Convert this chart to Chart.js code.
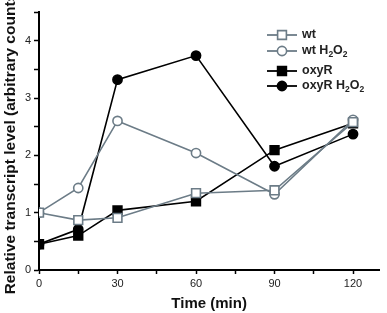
<!DOCTYPE html>
<html>
<head>
<meta charset="utf-8">
<script src="https://cdn.jsdelivr.net/npm/chart.js@4"></script>
<style>
html,body{margin:0;padding:0;background:#fff;}
#wrap{position:relative;width:387px;height:313px;}
</style>
</head>
<body>
<div id="wrap"><canvas id="c" width="387" height="313"></canvas></div>
<script>
const times = [0, 15, 30, 60, 90, 120];
const wt = [1.0, 0.87, 0.91, 1.34, 1.39, 2.58];
const wtH2O2 = [1.0, 1.43, 2.60, 2.04, 1.32, 2.62];
const oxyR = [0.45, 0.60, 1.04, 1.20, 2.09, 2.56];
const oxyRH2O2 = [0.45, 0.71, 3.32, 3.74, 1.81, 2.37];
const xTickLabels = [0, 30, 60, 90, 120];
const yTickLabels = [0, 1, 2, 3, 4];

const GRAY = '#6c7c87';
const BLACK = '#000';
const pts = arr => arr.map((v, i) => ({x: times[i], y: v}));

const seriesDefs = [
  {label: 'wt', data: wt, color: GRAY, style: 'rect', fill: '#fff'},
  {label: 'wt H2O2', data: wtH2O2, color: GRAY, style: 'circle', fill: '#fff'},
  {label: 'oxyR', data: oxyR, color: BLACK, style: 'rect', fill: BLACK},
  {label: 'oxyR H2O2', data: oxyRH2O2, color: BLACK, style: 'circle', fill: BLACK}
];

const datasets = seriesDefs.map(s => ({
  label: s.label,
  data: pts(s.data),
  borderColor: s.color,
  backgroundColor: s.fill,
  borderWidth: 1.6,
  pointStyle: s.style,
  pointRadius: s.style === 'rect' ? 6.2 : 4.6,
  pointBorderWidth: 1.6,
  pointBorderColor: s.color,
  pointBackgroundColor: s.fill,
  tension: 0
}));

function drawMarker(ctx, style, x, y, color, fill) {
  ctx.save();
  ctx.lineWidth = 1.6;
  ctx.strokeStyle = color;
  ctx.fillStyle = fill;
  ctx.beginPath();
  if (style === 'rect') {
    ctx.rect(x - 4.4, y - 4.4, 8.8, 8.8);
  } else {
    ctx.arc(x, y, 4.6, 0, Math.PI * 2);
  }
  ctx.fill();
  ctx.stroke();
  ctx.restore();
}

function drawLabel(ctx, text, x, y) {
  const parts = text.split(/(H2O2)/);
  ctx.save();
  ctx.fillStyle = '#222';
  ctx.textBaseline = 'middle';
  ctx.textAlign = 'left';
  let cx = x;
  const big = 'bold 12.5px "Liberation Sans", Arial, sans-serif';
  const small = 'bold 8.5px "Liberation Sans", Arial, sans-serif';
  const seg = (t, font, dy) => { ctx.font = font; ctx.fillText(t, cx, y + dy); cx += ctx.measureText(t).width; };
  parts.forEach(p => {
    if (p === 'H2O2') {
      seg('H', big, 0); seg('2', small, 4); seg('O', big, 0); seg('2', small, 4);
    } else if (p) {
      seg(p, big, 0);
    }
  });
  ctx.restore();
}

const legendPlugin = {
  id: 'innerLegend',
  afterDatasetsDraw(chart) {
    const ctx = chart.ctx;
    const rowsY = [35, 51, 71, 86];
    const x0 = 267, x1 = 297, xm = 282, xt = 302;
    seriesDefs.forEach((s, i) => {
      const y = rowsY[i];
      ctx.save();
      ctx.strokeStyle = s.color;
      ctx.lineWidth = 1.8;
      ctx.beginPath();
      ctx.moveTo(x0, y); ctx.lineTo(x1, y);
      ctx.stroke();
      ctx.restore();
      drawMarker(ctx, s.style, xm, y, s.color, s.fill);
      drawLabel(ctx, s.label, xt, y);
    });
  }
};

const bgPlugin = {
  id: 'bg',
  beforeDraw(chart) {
    const ctx = chart.ctx;
    ctx.save();
    ctx.fillStyle = '#fff';
    ctx.fillRect(0, 0, chart.width, chart.height);
    ctx.restore();
  }
};

new Chart(document.getElementById('c'), {
  type: 'line',
  data: {datasets},
  plugins: [bgPlugin, legendPlugin],
  options: {
    responsive: false,
    animation: false,
    layout: {padding: {top: 12, right: 0, left: 0, bottom: 0}},
    plugins: {legend: {display: false}, tooltip: {enabled: false}},
    scales: {
      x: {
        type: 'linear',
        min: 0, max: 130,
        border: {display: true, color: '#000', width: 2},
        grid: {display: true, drawOnChartArea: false, drawTicks: true, tickLength: 4, tickColor: '#000', tickWidth: 1.5},
        ticks: {
          stepSize: 15,
          includeBounds: false,
          autoSkip: false,
          maxRotation: 0,
          padding: 3,
          color: '#222',
          font: {family: '"Liberation Sans", Arial, sans-serif', size: 11},
          callback: v => xTickLabels.includes(v) ? String(v) : ''
        },
        title: {
          display: true, text: 'Time (min)', color: '#111',
          font: {family: '"Liberation Sans", Arial, sans-serif', size: 15, weight: 'bold'},
          padding: {top: 1, bottom: 0}
        },
        afterFit: s => { s.height = 43; }
      },
      y: {
        min: 0, max: 4.5,
        border: {display: true, color: '#000', width: 2},
        grid: {display: true, drawOnChartArea: false, drawTicks: true, tickLength: 5, tickColor: '#000', tickWidth: 1.5},
        ticks: {
          stepSize: 0.5,
          includeBounds: false,
          padding: 3,
          color: '#222',
          font: {family: '"Liberation Sans", Arial, sans-serif', size: 11},
          callback: v => yTickLabels.includes(v) ? String(v) : ''
        },
        title: {
          display: true, text: 'Relative transcript level (arbitrary counts)', color: '#111',
          font: {family: '"Liberation Sans", Arial, sans-serif', size: 15.5, weight: 'bold'},
          padding: {top: 1, bottom: 0}
        },
        afterFit: s => { s.width = 39; }
      }
    }
  }
});
</script>
</body>
</html>
